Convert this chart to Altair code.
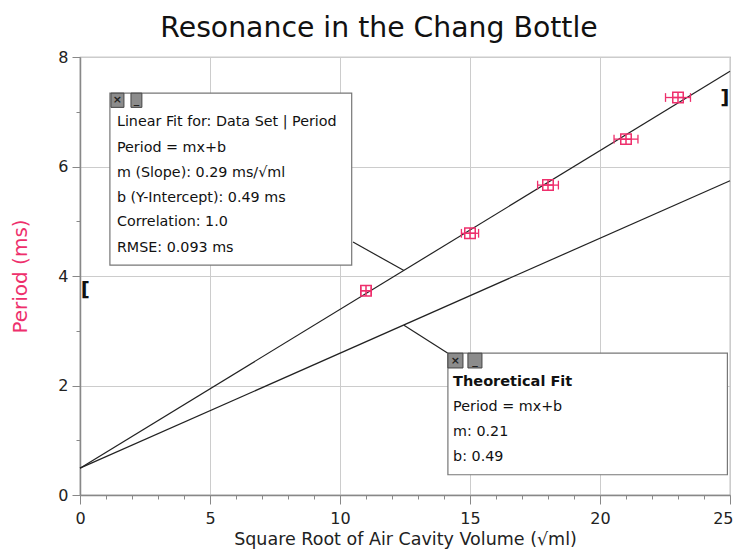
import altair as alt
import pandas as pd

FONT = "DejaVu Sans"
PINK = "#ee2f6c"

# measured data
x_vals = [11, 15, 18, 21, 23]
period = [3.73, 4.78, 5.66, 6.50, 7.26]
x_err = [0.2, 0.33, 0.40, 0.46, 0.48]

# fits
fit_names = ["Linear Fit", "Theoretical Fit"]
fit_m = [0.29, 0.21]
fit_b = [0.49, 0.49]
x_range = [0, 25]

# annotation boxes (data coordinates)
box_x1 = [1.15, 14.15]
box_x2 = [10.45, 24.9]
box_y1 = [4.2, 0.37]
box_y2 = [7.34, 2.59]

box1_lines = ["Linear Fit for: Data Set | Period", "Period = mx+b",
              "m (Slope): 0.29 ms/\u221aml", "b (Y-Intercept): 0.49 ms",
              "Correlation: 1.0", "RMSE: 0.093 ms"]
box1_y = [6.81, 6.34, 5.88, 5.42, 4.98, 4.51]
box1_x = 1.42
box2_lines = ["Theoretical Fit", "Period = mx+b", "m: 0.21", "b: 0.49"]
box2_y = [2.06, 1.61, 1.15, 0.69]
box2_x = 14.35
box2_bold = [True, False, False, False]

# leader lines
lead_x = [10.5, 12.46]
lead_y = [4.62, 3.10]
lead_x2 = [12.46, 14.15]
lead_y2 = [4.10, 2.59]

# window buttons
btn_x1 = [1.19, 1.96, 14.15, 14.92]
btn_x2 = [1.69, 2.38, 14.73, 15.46]
btn_y1 = [7.08, 7.08, 2.32, 2.32]
btn_y2 = [7.34, 7.34, 2.59, 2.59]
btn_sym = ["\u00d7", "_", "\u00d7", "_"]

# range brackets
br_x = [0.2, 24.8]
br_y = [3.75, 7.25]
br_t = ["[", "]"]

xs = alt.Scale(domain=[0, 25], nice=False, zero=False)
ys = alt.Scale(domain=[0, 8], nice=False, zero=False)

fit_rows = []
for n, m, b in zip(fit_names, fit_m, fit_b):
    for xv in x_range:
        fit_rows.append({"name": n, "x": xv, "y": m * xv + b})
fit_df = pd.DataFrame(fit_rows)

pts = pd.DataFrame({"x": x_vals, "y": period, "e": x_err})

x_axis = alt.Axis(
    title="Square Root of Air Cavity Volume (\u221aml)",
    values=list(range(26)), tickCount=26,
    labelExpr="datum.value % 5 == 0 ? datum.label : ''",
    tickSize={"condition": {"test": "datum.value % 5 == 0", "value": 9}, "value": 4},
    gridOpacity={"condition": {"test": "datum.value % 5 == 0", "value": 1}, "value": 0},
    labelAlign={"condition": {"test": "datum.value == 25", "value": "right"}, "value": "center"},
    labelOffset={"condition": {"test": "datum.value == 25", "value": 3}, "value": 0},
    labelOverlap=False, labelFlush=False, labelFontSize=16, labelPadding=6,
    titleFontSize=17.5, titleFontWeight="normal", titlePadding=4, titleColor="#222",
)
y_axis = alt.Axis(
    title="Period (ms)",
    values=list(range(9)), tickCount=9,
    labelExpr="datum.value % 2 == 0 ? datum.label : ''",
    tickSize={"condition": {"test": "datum.value % 2 == 0", "value": 8}, "value": 4},
    gridOpacity={"condition": {"test": "datum.value % 2 == 0", "value": 1}, "value": 0},
    labelOverlap=False, labelFlush=False, labelFontSize=16, labelPadding=4,
    titleFontSize=20, titleFontWeight="normal", titlePadding=27, titleColor=PINK,
)

lines = alt.Chart(fit_df).mark_line(color="#222", strokeWidth=1.2).encode(
    x=alt.X("x:Q", scale=xs, axis=x_axis),
    y=alt.Y("y:Q", scale=ys, axis=y_axis),
    detail="name:N",
)

ebar = alt.Chart(pts).transform_calculate(
    lo="datum.x - datum.e", hi="datum.x + datum.e"
).mark_rule(color=PINK, strokeWidth=1.3).encode(
    x=alt.X("lo:Q", scale=xs), x2="hi:Q", y=alt.Y("y:Q", scale=ys)
)
caps = alt.Chart(pts).transform_calculate(
    lo="datum.x - datum.e", hi="datum.x + datum.e", ya="datum.y - 0.08", yb="datum.y + 0.08"
).transform_fold(["lo", "hi"], as_=["side", "xc"]).mark_rule(color=PINK, strokeWidth=1.3).encode(
    x=alt.X("xc:Q", scale=xs), y=alt.Y("ya:Q", scale=ys), y2="yb:Q"
)
marker = alt.Chart(pts).mark_point(
    shape="M-1,-1H1V1H-1Z M-1,0H1 M0,-1V1", filled=False, color=PINK, size=110, strokeWidth=1.5, opacity=1
).encode(x=alt.X("x:Q", scale=xs), y=alt.Y("y:Q", scale=ys))

lead_df = pd.DataFrame({"x": lead_x, "y": lead_y, "x2": lead_x2, "y2": lead_y2})
leads = alt.Chart(lead_df).mark_rule(color="#222", strokeWidth=1.2).encode(
    x=alt.X("x:Q", scale=xs), y=alt.Y("y:Q", scale=ys), x2="x2:Q", y2="y2:Q"
)

box_df = pd.DataFrame({"x": box_x1, "x2": box_x2, "y": box_y1, "y2": box_y2})
boxes = alt.Chart(box_df).mark_rect(fill="white", stroke="#777", strokeWidth=1.2).encode(
    x=alt.X("x:Q", scale=xs), x2="x2:Q", y=alt.Y("y:Q", scale=ys), y2="y2:Q"
)

t1 = pd.DataFrame({"t": box1_lines, "x": [box1_x] * len(box1_lines), "y": box1_y})
text1 = alt.Chart(t1).mark_text(align="left", baseline="middle", font=FONT, fontSize=14.3, color="#111").encode(
    x=alt.X("x:Q", scale=xs), y=alt.Y("y:Q", scale=ys), text="t:N"
)
t2 = pd.DataFrame({"t": box2_lines, "x": [box2_x] * len(box2_lines), "y": box2_y, "b": box2_bold})
text2 = alt.Chart(t2).transform_filter("!datum.b").mark_text(
    align="left", baseline="middle", font=FONT, fontSize=14.3, color="#111"
).encode(x=alt.X("x:Q", scale=xs), y=alt.Y("y:Q", scale=ys), text="t:N")
text2b = alt.Chart(t2).transform_filter("datum.b").mark_text(
    align="left", baseline="middle", font=FONT, fontSize=14.5, fontWeight="bold", color="#111"
).encode(x=alt.X("x:Q", scale=xs), y=alt.Y("y:Q", scale=ys), text="t:N")

btn_df = pd.DataFrame({"x": btn_x1, "x2": btn_x2, "y": btn_y1, "y2": btn_y2, "s": btn_sym})
btns = alt.Chart(btn_df).mark_rect(fill="#8c8c8c", stroke="#444", strokeWidth=1).encode(
    x=alt.X("x:Q", scale=xs), x2="x2:Q", y=alt.Y("y:Q", scale=ys), y2="y2:Q"
)
btn_txt = alt.Chart(btn_df).transform_calculate(
    cx="(datum.x + datum.x2) / 2", cy="(datum.y + datum.y2) / 2"
).mark_text(font=FONT, fontSize=11, fontWeight="bold", color="#222", baseline="middle").encode(
    x=alt.X("cx:Q", scale=xs), y=alt.Y("cy:Q", scale=ys), text="s:N"
)

br_df = pd.DataFrame({"x": br_x, "y": br_y, "t": br_t})
brackets = alt.Chart(br_df).mark_text(font=FONT, fontSize=20, fontWeight="bold", color="#111", baseline="middle").encode(
    x=alt.X("x:Q", scale=xs), y=alt.Y("y:Q", scale=ys), text="t:N"
)

chart = alt.layer(
    lines, leads, ebar, caps, marker, boxes, text1, text2, text2b, btns, btn_txt, brackets
).properties(
    width=650, height=438,
    title=alt.TitleParams("Resonance in the Chang Bottle", font=FONT, fontSize=28.3,
                          fontWeight="normal", color="#111", anchor="middle", dx=-26, offset=6),
    autosize=alt.AutoSizeParams(type="none"),
    padding={"left": 72, "top": 49, "right": 3, "bottom": 56},
    background="white",
).configure_view(stroke="#999", strokeWidth=1.2).configure_axis(
    labelFont=FONT, titleFont=FONT, domainColor="#888", domainWidth=1.5, tickColor="#888",
    gridColor="#cccccc", labelColor="#222",
)

chart.save("out.html", embed_options={"renderer": "svg", "actions": False})
